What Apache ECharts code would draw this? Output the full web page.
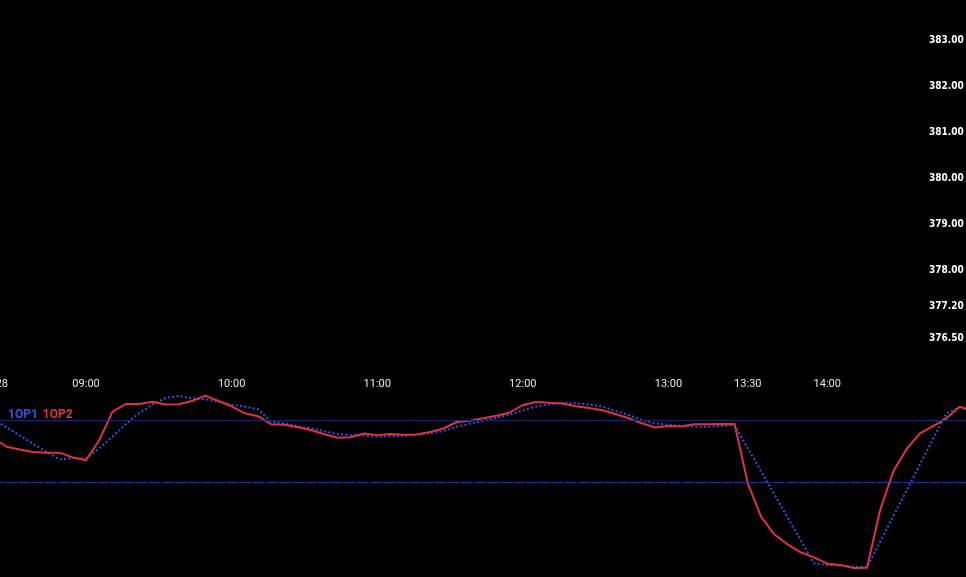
<!DOCTYPE html>
<html><head><meta charset="utf-8">
<script src="https://cdn.jsdelivr.net/npm/echarts@6/dist/echarts.min.js"></script>
<style>html,body{margin:0;padding:0;background:#000}#c{width:966px;height:577px}</style>
</head><body><div id="c"></div>
<script>
// x-axis tick labels (bar index -> text)
const tickIndex = [0, 7, 18, 29, 40, 51, 57, 63];
const tickText = ['05/28', '09:00', '10:00', '11:00', '12:00', '13:00', '13:30', '14:00'];
// price axis labels (upper pane)
const priceTicks = [383, 382, 381, 380, 379, 378, 377.2, 376.5];
// 1OP1 (blue, dotted)
const op1 = [100.8,88.2,74.7,61.8,48.4,36.6,38.2,38.2,54.4,73.1,
  93.5,110.8,124.7,135.5,138.7,135.0,133.4,129.5,124.7,121.5,
  117.3,97.3,94.7,89.8,86.6,81.8,77.4,75.8,75.0,72.9,
  73.9,74.5,76.6,79.0,81.9,89.2,94.0,98.7,103.5,108.7,
  115.5,121.5,125.3,127.4,126.9,125.0,121.8,114.5,108.1,100.0,
  94.7,92.4,90.3,89.2,89.2,90.3,91.5,null,null,null,
  null,null,-131.1,-133.9,-135.0,-136.6,-137.6,null,null,null,
  null,null,110.8,120.5,116.9];
// 1OP2 (red, solid)
const op2 = [71.0,56.9,52.4,48.4,47.3,47.3,39.5,35.0,67.7,113.4,
  125.8,125.8,129.5,125.0,125.5,130.6,139.2,130.6,122.1,110.8,
  106.1,93.1,92.3,88.2,83.9,76.9,71.5,72.1,78.2,75.6,
  77.6,76.1,76.6,80.6,86.3,96.8,98.7,102.7,106.8,112.1,
  124.2,129.0,127.7,126.5,122.1,119.4,115.8,109.7,102.9,94.7,
  87.9,90.5,89.8,93.1,93.2,93.4,93.5,-2.1,-56.0,-84.4,
  -100.5,-113.4,-121.5,-131.8,-133.9,-138.7,-138.2,-45.2,17.7,53.2,
  78.5,90.3,102.7,121.5,113.4];
// reference levels in the lower pane
const levelUpper = 100;
const levelLower = 0;

const barCount = op2.length;
const categories = Array.from({length: barCount}, (_, i) => {
  const k = tickIndex.indexOf(i);
  return k >= 0 ? tickText[k] : 'b' + i;
});

const chart = echarts.init(document.getElementById('c'));
const gridLR = {left: -6.6, right: -6.8};
chart.setOption({
  backgroundColor: '#000',
  animation: false,
  title: {
    text: '{a|1OP1} {b|1OP2}',
    left: 8, top: 406, padding: 0,
    textStyle: {
      rich: {
        a: {color: '#2f55e8', fontSize: 12, fontWeight: 'bold', fontFamily: 'Roboto, sans-serif'},
        b: {color: '#dc3340', fontSize: 12, fontWeight: 'bold', fontFamily: 'Roboto, sans-serif'}
      }
    }
  },
  grid: [
    Object.assign({top: 0, height: 372, outerBoundsMode: 'none', containLabel: false}, gridLR),
    Object.assign({top: 389, height: 186, outerBoundsMode: 'none', containLabel: false}, gridLR)
  ],
  xAxis: [
    {
      type: 'category', gridIndex: 0, data: categories, boundaryGap: false,
      axisLine: {show: false}, axisTick: {show: false}, splitLine: {show: false},
      axisLabel: {
        color: '#e6e6e6', fontSize: 11, fontFamily: 'Roboto, sans-serif', margin: 7,
        interval: (i) => tickIndex.indexOf(i) >= 0,
        formatter: (v, i) => { const k = tickIndex.indexOf(i); return k >= 0 ? tickText[k] : ''; }
      }
    },
    {
      type: 'category', gridIndex: 1, data: categories, boundaryGap: false, show: false
    }
  ],
  yAxis: [
    {
      type: 'value', gridIndex: 0, position: 'right', min: 375.778, max: 383.882,
      axisLine: {show: false}, axisTick: {show: false}, splitLine: {show: false},
      axisLabel: {
        inside: true, margin: 9, color: '#ffffff', fontSize: 10, fontWeight: 'bold',
        fontFamily: 'DejaVu Sans Condensed, DejaVu Sans, sans-serif',
        customValues: priceTicks,
        formatter: (v) => v.toFixed(2)
      }
    },
    {
      type: 'value', gridIndex: 1, min: -150, max: 150, show: false
    }
  ],
  series: [
    {
      name: '1OP1', type: 'line', xAxisIndex: 1, yAxisIndex: 1, data: op1,
      symbol: 'none', connectNulls: true,
      lineStyle: {color: '#2f55e8', width: 2, type: [2, 2.3]},
      markLine: {
        silent: true, symbol: 'none', label: {show: false},
        data: [
          {yAxis: levelUpper, lineStyle: {color: '#1a2466', width: 1, type: 'solid'}},
          {yAxis: levelLower, lineStyle: {color: '#2139a8', width: 1, type: [11, 2]}}
        ]
      },
      z: 2
    },
    {
      name: '1OP2', type: 'line', xAxisIndex: 1, yAxisIndex: 1, data: op2,
      symbol: 'none',
      lineStyle: {color: '#dc3340', width: 2},
      z: 3
    }
  ]
});
</script>
</body></html>
